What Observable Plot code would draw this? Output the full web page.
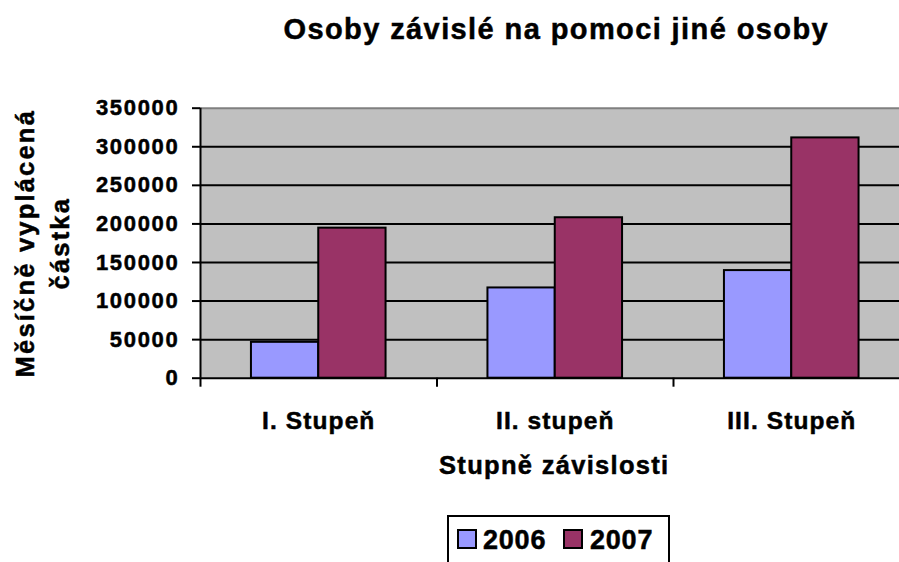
<!DOCTYPE html>
<html>
<head>
<meta charset="utf-8">
<script src="https://cdn.jsdelivr.net/npm/d3@7"></script>
<script src="https://cdn.jsdelivr.net/npm/@observablehq/plot@0.6"></script>
<style>
  body { margin: 0; background: #fff; }
  #chart { position: relative; width: 899px; height: 562px; overflow: hidden;
           font-family: "Liberation Sans", Arial, sans-serif; font-weight: bold; color: #000; }
  #chart svg { position: absolute; left: 0; top: 0; }
  #chart svg text { stroke: #000; stroke-width: 0.5px; }
  #legend { position: absolute; left: 446.7px; top: 515px; width: 223.3px; height: 60px;
            border: 2px solid #000; box-sizing: border-box; background: #fff; }
  .sw { position: absolute; top: 12px; width: 20px; height: 20px; border: 2px solid #000; box-sizing: border-box; }
  .lt { position: absolute; top: 9.5px; font-size: 27px; line-height: 27px; letter-spacing: 0.8px;
        white-space: nowrap; -webkit-text-stroke: 0.5px #000; }
</style>
</head>
<body>
<div id="chart"></div>
<script>
// ---- data ----
const title = "Osoby závislé na pomoci jiné osoby";
const categories = ["I. Stupeň", "II. stupeň", "III. Stupeň"];
const series = ["2006", "2007"];
const values2006 = [46500, 117000, 139500];
const values2007 = [194500, 208000, 311500];
const yTicks = [0, 50000, 100000, 150000, 200000, 250000, 300000, 350000];
const colors = ["#9999ff", "#993366"];
const xTitle = "Stupně závislosti";
const yTitle = "Měsíčně vyplácená\nčástka";

const seriesValues = [values2006, values2007];
const rows = categories.flatMap((c, i) =>
  series.map((s, j) => ({category: c, i, year: s, j, value: seriesValues[j][i]})));

const barFrac = 0.2846;               // bar width as a share of the category band
const gapFrac = (1 - 2 * barFrac) / 2;

const plot = Plot.plot({
  width: 899,
  height: 562,
  marginLeft: 200,
  marginRight: -10.5,
  marginTop: 107.7,
  marginBottom: 184.3,
  style: "font-family: 'Liberation Sans', Arial, sans-serif; font-weight: bold; color: #000; background: transparent;",
  x: {domain: [0, categories.length], axis: null},
  y: {domain: [0, yTicks[yTicks.length - 1]], axis: null},
  color: {domain: series, range: colors},
  marks: [
    Plot.frame({fill: "#c0c0c0"}),
    Plot.ruleY([yTicks[yTicks.length - 1]], {stroke: "#808080", strokeWidth: 2}),
    Plot.ruleY(yTicks.slice(1, -1), {stroke: "#000", strokeWidth: 2}),
    Plot.rect(rows, {
      x1: d => d.i + gapFrac + d.j * barFrac,
      x2: d => d.i + gapFrac + (d.j + 1) * barFrac,
      y1: () => 0,
      y2: "value",
      fill: "year",
      stroke: "#000",
      strokeWidth: 2
    }),
    Plot.ruleY([0], {stroke: "#000", strokeWidth: 2}),
    Plot.ruleX([0], {y1: () => 0, y2: () => yTicks[yTicks.length - 1], stroke: "#000", strokeWidth: 2}),
    Plot.axisX({ticks: d3.range(categories.length + 1), tickSize: 9, tickFormat: () => "", strokeWidth: 2, label: null}),
    Plot.axisY({ticks: yTicks, tickSize: 8, tickPadding: 13, strokeWidth: 2, fontSize: 22,
                tickFormat: d => String(d), label: null}),
    Plot.text(categories, {x: (d, i) => i + 0.5, frameAnchor: "bottom", lineAnchor: "top",
                           dy: 33.2, fontSize: 24.5}),
    Plot.text([xTitle], {frameAnchor: "bottom", lineAnchor: "top", dy: 77.5, dx: -1,
                         fontSize: 25.5}),
    Plot.text([yTitle], {frameAnchor: "left", rotate: -90, textAnchor: "middle", lineAnchor: "bottom",
                         lineHeight: 1.37, dx: -131.7, fontSize: 25.5}),
    Plot.text([title], {frameAnchor: "top", lineAnchor: "bottom", dy: -69.4, dx: 1,
                        fontSize: 29})
  ]
});

// extra letter spacing (the reference text is set wider than Arial)
const spacing = new Map([
  [title, "1.4px"], [xTitle, "1.3px"], [yTitle.replace("\n", ""), "2.2px"]
]);
categories.forEach(c => spacing.set(c, "1.1px"));
yTicks.forEach(t => spacing.set(String(t), "1.7px"));
d3.select(plot).selectAll("text").each(function () {
  const v = spacing.get(this.textContent);
  if (v) this.style.letterSpacing = v;
});

const chart = document.getElementById("chart");
chart.appendChild(plot);

// legend
const legend = document.createElement("div");
legend.id = "legend";
const swLeft = [8, 114.3], txtLeft = [34.3, 141.3];
series.forEach((s, j) => {
  const sw = document.createElement("div");
  sw.className = "sw";
  sw.style.left = swLeft[j] + "px";
  sw.style.background = colors[j];
  const t = document.createElement("span");
  t.className = "lt";
  t.style.left = txtLeft[j] + "px";
  t.textContent = s;
  legend.appendChild(sw);
  legend.appendChild(t);
});
chart.appendChild(legend);
</script>
</body>
</html>
